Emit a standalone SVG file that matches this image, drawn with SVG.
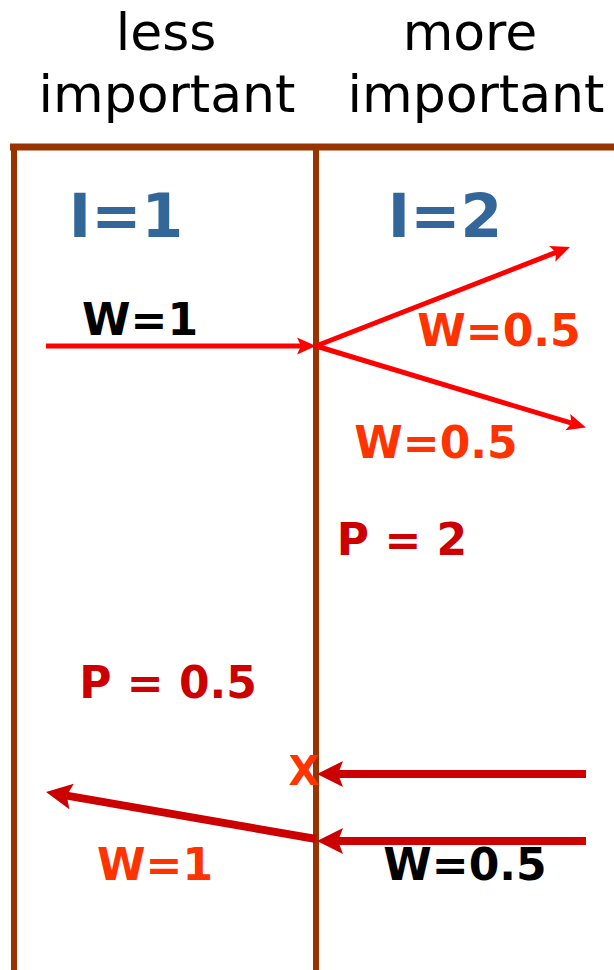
<svg xmlns="http://www.w3.org/2000/svg" width="614" height="970" viewBox="0 0 614 970">
<style>
.hdr{font-family:"DejaVu Sans",Verdana,sans-serif;font-size:52px;fill:#000;text-anchor:middle}
.lbl{font-family:"DejaVu Sans",Verdana,sans-serif;font-weight:bold;font-size:44px;text-anchor:middle}
.big{font-family:"DejaVu Sans",Verdana,sans-serif;font-weight:bold;font-size:60px;fill:#336699;text-anchor:middle}
.frame{stroke:#993300;fill:none}
.up{stroke:#ff0000;stroke-width:5;fill:none;marker-end:url(#hr)}
.dn{stroke:#cc0000;stroke-width:8;fill:none;marker-end:url(#hd)}
</style>
<defs>
<marker id="hr" markerUnits="userSpaceOnUse" markerWidth="20" markerHeight="18" refX="4" refY="8.5" orient="auto" overflow="visible">
<path d="M0,0 L19,8.5 L0,17 L4,8.5 z" fill="#ff0000"/>
</marker>
<marker id="hd" markerUnits="userSpaceOnUse" markerWidth="27" markerHeight="27" refX="5" refY="13" orient="auto" overflow="visible">
<path d="M0,0 L26,13 L0,26 L5,13 z" fill="#cc0000"/>
</marker>
</defs>
<rect width="614" height="970" fill="#fff"/>
<g id="frame">
<line class="frame" x1="10" y1="147" x2="614" y2="147" stroke-width="7"/>
<line class="frame" x1="14" y1="144" x2="14" y2="970" stroke-width="6"/>
<line class="frame" x1="316" y1="144" x2="316" y2="970" stroke-width="6"/>
</g>
<g id="header-less">
<text class="hdr" x="166" y="50">less</text>
<text class="hdr" x="167" y="112">important</text>
</g>
<g id="header-more">
<text class="hdr" x="470" y="50">more</text>
<text class="hdr" x="476" y="112">important</text>
</g>
<g id="I1"><text class="big" x="126" y="237">I=1</text></g>
<g id="I2"><text class="big" x="445" y="237">I=2</text></g>
<g id="connectors">
<line class="up" x1="46" y1="346" x2="301" y2="346"/>
<line class="up" x1="316" y1="346" x2="556" y2="252.4"/>
<line class="up" x1="316" y1="346" x2="571.6" y2="423.2"/>
<line class="dn" x1="586" y1="774" x2="338" y2="774"/>
<line class="dn" x1="586" y1="841" x2="338" y2="841"/>
<line class="dn" x1="316" y1="839" x2="66.7" y2="795.6"/>
</g>
<g id="labels">
<text class="lbl" x="140" y="335" fill="#000">W=1</text>
<text class="lbl" x="499" y="346" fill="#ff3300">W=0.5</text>
<text class="lbl" x="436" y="458" fill="#ff3300">W=0.5</text>
<text class="lbl" x="402" y="555" fill="#cc0000">P = 2</text>
<text class="lbl" x="168" y="698" fill="#cc0000">P = 0.5</text>
<text class="lbl" x="304" y="785" fill="#ff3300" style="font-size:40px">X</text>
<text class="lbl" x="155" y="880" fill="#ff3300">W=1</text>
<text class="lbl" x="465" y="880" fill="#000">W=0.5</text>
</g>
</svg>
